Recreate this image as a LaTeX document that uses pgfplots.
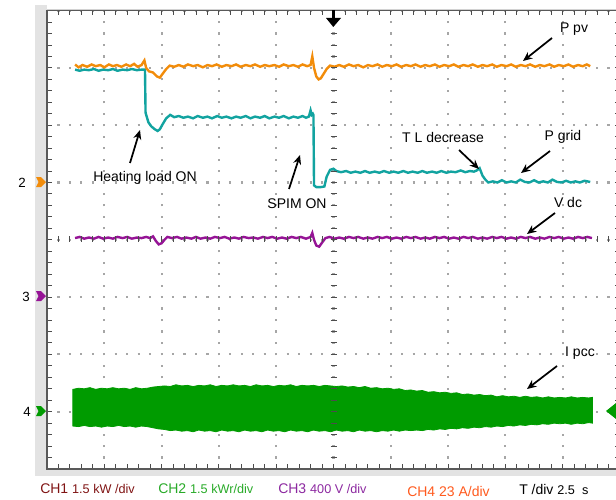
\documentclass[border=0pt]{standalone}
\usepackage{pgfplots}
\pgfplotsset{compat=1.18}
\usepackage{fontspec}
\setmainfont{Liberation Sans}
\usetikzlibrary{arrows.meta}
\definecolor{cOr}{RGB}{242,140,10}
\definecolor{cTe}{RGB}{18,163,160}
\definecolor{cPu}{RGB}{150,20,150}
\definecolor{cGr}{RGB}{0,155,0}
\definecolor{lCH1}{RGB}{128,20,20}
\definecolor{lCH2}{RGB}{40,170,40}
\definecolor{lCH3}{RGB}{140,40,160}
\definecolor{lCH4}{RGB}{255,90,30}
\begin{document}
\begin{tikzpicture}
\begin{scope}[x=0.75pt,y=-0.75pt]
\path[use as bounding box] (0,0) rectangle (616,499);
\fill[gray!22] (35,5) rectangle (47,476);
\fill[gray!22] (35,469) rectangle (616,476);
\draw[gray!35, line width=0.6pt] (47,9) -- (616,9);
\end{scope}
\begin{axis}[
  overlay,
  at={(35.25pt,-351.75pt)}, anchor=south west,
  scale only axis, width=429.75pt, height=343.8pt,
  xmin=0, xmax=10, ymin=0, ymax=8,
  xtick={0,...,10}, ytick={0,...,8},
  xticklabels={}, yticklabels={},
  minor x tick num=4, minor y tick num=4,
  tick align=inside, major tick length=3.5pt, minor tick length=3.5pt,
  tick style={gray!60!black, line width=0.7pt},
  axis line style={gray!70!black, line width=0.8pt},
  grid=major,
  major grid style={gray!70, line width=1.6pt, dash pattern=on 1.6pt off 6.995pt, dash phase=0.8pt},
  clip=false,
]
% green band (I pcc)
\addplot[draw=cGr, fill=cGr, line width=0.6pt] coordinates {
(0.45,1.39) (0.55,1.41) (0.65,1.40) (0.75,1.42) (0.85,1.39) (0.95,1.41) (1.05,1.40) (1.15,1.42) (1.25,1.40) (1.35,1.41) (1.45,1.39) (1.55,1.42) (1.65,1.40) (1.75,1.41) (1.85,1.43) (1.95,1.44) (2.05,1.45) (2.15,1.44) (2.25,1.47) (2.35,1.45) (2.45,1.46) (2.55,1.44) (2.65,1.46) (2.75,1.45) (2.85,1.47) (2.95,1.44) (3.05,1.46) (3.15,1.45) (3.25,1.47) (3.35,1.45) (3.45,1.46) (3.55,1.44) (3.65,1.47) (3.75,1.45) (3.85,1.46) (3.95,1.44) (4.05,1.46) (4.15,1.45) (4.25,1.47) (4.35,1.44) (4.45,1.46) (4.55,1.45) (4.65,1.46) (4.75,1.44) (4.85,1.46) (4.95,1.45) (5.05,1.44) (5.15,1.45) (5.25,1.43) (5.35,1.44) (5.45,1.42) (5.55,1.44) (5.65,1.41) (5.75,1.42) (5.85,1.40) (5.95,1.41) (6.05,1.39) (6.15,1.40) (6.25,1.37) (6.35,1.38) (6.45,1.36) (6.55,1.37) (6.65,1.34) (6.75,1.35) (6.85,1.33) (6.95,1.34) (7.05,1.32) (7.15,1.33) (7.25,1.30) (7.35,1.31) (7.45,1.29) (7.55,1.30) (7.65,1.28) (7.75,1.29) (7.85,1.26) (7.95,1.28) (8.05,1.26) (8.15,1.27) (8.25,1.25) (8.35,1.27) (8.45,1.25) (8.55,1.26) (8.65,1.24) (8.75,1.26) (8.85,1.24) (8.95,1.25) (9.05,1.24) (9.15,1.26) (9.25,1.24) (9.35,1.25) (9.45,1.24) (9.52,1.25)
(9.52,0.80) (9.45,0.81) (9.35,0.79) (9.25,0.80) (9.15,0.78) (9.05,0.80) (8.95,0.79) (8.85,0.80) (8.75,0.78) (8.65,0.79) (8.55,0.77) (8.45,0.78) (8.35,0.76) (8.25,0.77) (8.15,0.75) (8.05,0.76) (7.95,0.74) (7.85,0.75) (7.75,0.73) (7.65,0.74) (7.55,0.72) (7.45,0.73) (7.35,0.71) (7.25,0.72) (7.15,0.70) (7.05,0.71) (6.95,0.69) (6.85,0.70) (6.75,0.68) (6.65,0.69) (6.55,0.67) (6.45,0.68) (6.35,0.67) (6.25,0.68) (6.15,0.66) (6.05,0.68) (5.95,0.66) (5.85,0.67) (5.75,0.65) (5.65,0.67) (5.55,0.66) (5.45,0.68) (5.35,0.65) (5.25,0.67) (5.15,0.66) (5.05,0.68) (4.95,0.65) (4.85,0.67) (4.75,0.66) (4.65,0.68) (4.55,0.65) (4.45,0.67) (4.35,0.66) (4.25,0.68) (4.15,0.65) (4.05,0.67) (3.95,0.66) (3.85,0.68) (3.75,0.65) (3.65,0.67) (3.55,0.66) (3.45,0.68) (3.35,0.65) (3.25,0.67) (3.15,0.66) (3.05,0.68) (2.95,0.65) (2.85,0.67) (2.75,0.66) (2.65,0.68) (2.55,0.65) (2.45,0.67) (2.35,0.66) (2.25,0.68) (2.15,0.67) (2.05,0.69) (1.95,0.70) (1.85,0.72) (1.75,0.74) (1.65,0.75) (1.55,0.73) (1.45,0.75) (1.35,0.74) (1.25,0.76) (1.15,0.74) (1.05,0.75) (0.95,0.73) (0.85,0.75) (0.75,0.74) (0.65,0.76) (0.55,0.74) (0.45,0.75)
} -- cycle;
% purple V dc
\addplot[cPu, line width=1.8pt] coordinates {
(0.49,4.03) (0.57,4.05) (0.65,4.02) (0.73,4.04) (0.82,4.02) (0.90,4.05) (0.98,4.02) (1.07,4.04) (1.15,4.02) (1.23,4.05) (1.32,4.03) (1.40,4.05) (1.48,4.02) (1.57,4.04) (1.65,4.03) (1.73,4.05) (1.80,4.03) (1.85,4.06) (1.90,3.98) (1.95,3.92) (2.00,3.94) (2.05,4.00) (2.10,4.05) (2.18,4.03) (2.27,4.05) (2.35,4.02) (2.43,4.04) (2.52,4.02) (2.60,4.05) (2.68,4.02) (2.77,4.04) (2.85,4.02) (2.93,4.05) (3.02,4.03) (3.10,4.05) (3.18,4.02) (3.27,4.04) (3.35,4.02) (3.43,4.05) (3.52,4.03) (3.60,4.04) (3.68,4.02) (3.77,4.05) (3.85,4.03) (3.93,4.05) (4.02,4.02) (4.10,4.04) (4.18,4.02) (4.27,4.05) (4.35,4.03) (4.43,4.05) (4.52,4.02) (4.60,4.05) (4.63,4.12) (4.66,4.00) (4.70,3.90) (4.75,3.88) (4.80,3.95) (4.86,4.03) (4.93,4.05) (5.02,4.02) (5.10,4.04) (5.18,4.02) (5.27,4.05) (5.35,4.03) (5.43,4.05) (5.52,4.02) (5.60,4.04) (5.68,4.02) (5.77,4.05) (5.85,4.03) (5.93,4.05) (6.02,4.02) (6.10,4.04) (6.18,4.02) (6.27,4.05) (6.35,4.03) (6.43,4.05) (6.52,4.02) (6.60,4.04) (6.68,4.02) (6.77,4.05) (6.85,4.03) (6.93,4.05) (7.02,4.02) (7.10,4.04) (7.18,4.02) (7.27,4.05) (7.35,4.03) (7.43,4.05) (7.52,4.02) (7.60,4.04) (7.68,4.02) (7.77,4.05) (7.85,4.03) (7.93,4.05) (8.02,4.02) (8.10,4.04) (8.18,4.02) (8.27,4.05) (8.35,4.03) (8.43,4.05) (8.52,4.02) (8.60,4.04) (8.68,4.02) (8.77,4.05) (8.85,4.03) (8.93,4.05) (9.02,4.02) (9.10,4.04) (9.18,4.02) (9.27,4.05) (9.35,4.03) (9.43,4.05) (9.51,4.03)
};
% teal P grid
\addplot[cTe, line width=1.8pt] coordinates {
(0.49,6.97) (0.57,6.95) (0.65,6.97) (0.73,6.96) (0.82,6.98) (0.90,6.95) (0.98,6.97) (1.07,6.96) (1.15,6.98) (1.23,6.95) (1.32,6.97) (1.40,6.96) (1.48,6.98) (1.57,6.96) (1.65,6.97) (1.71,6.97) (1.72,6.22) (1.74,6.15) (1.77,6.05) (1.82,5.98) (1.88,5.93) (1.93,5.90) (1.97,5.93) (2.02,6.02) (2.08,6.12) (2.15,6.18) (2.22,6.14) (2.30,6.16) (2.38,6.13) (2.46,6.15) (2.55,6.12) (2.63,6.16) (2.72,6.13) (2.80,6.15) (2.88,6.12) (2.97,6.16) (3.05,6.13) (3.13,6.15) (3.22,6.12) (3.30,6.15) (3.38,6.13) (3.47,6.16) (3.55,6.12) (3.63,6.15) (3.72,6.13) (3.80,6.16) (3.88,6.12) (3.97,6.15) (4.05,6.13) (4.13,6.16) (4.22,6.12) (4.30,6.15) (4.38,6.13) (4.46,6.16) (4.52,6.13) (4.57,6.15) (4.60,6.26) (4.62,6.18) (4.64,6.20) (4.65,6.18) (4.66,4.95) (4.70,4.92) (4.78,4.92) (4.84,4.93) (4.88,5.10) (4.94,5.22) (5.00,5.24) (5.05,5.20) (5.13,5.18) (5.22,5.20) (5.30,5.17) (5.38,5.19) (5.47,5.17) (5.55,5.20) (5.63,5.17) (5.72,5.19) (5.80,5.17) (5.88,5.20) (5.97,5.17) (6.05,5.19) (6.13,5.17) (6.22,5.20) (6.30,5.17) (6.38,5.19) (6.47,5.17) (6.55,5.20) (6.63,5.17) (6.72,5.19) (6.80,5.17) (6.88,5.20) (6.97,5.17) (7.05,5.19) (7.13,5.18) (7.22,5.21) (7.30,5.18) (7.38,5.20) (7.45,5.19) (7.50,5.21) (7.55,5.25) (7.60,5.12) (7.65,5.05) (7.70,5.00) (7.78,5.02) (7.86,5.00) (7.94,5.04) (8.02,5.00) (8.10,5.02) (8.18,5.00) (8.26,5.05) (8.34,5.01) (8.42,5.00) (8.50,5.04) (8.58,5.00) (8.66,5.02) (8.74,5.00) (8.82,5.05) (8.90,5.01) (8.98,5.00) (9.06,5.03) (9.14,5.00) (9.22,5.02) (9.30,5.00) (9.38,5.03) (9.48,5.01)
};
% orange P pv
\addplot[cOr, line width=1.8pt] coordinates {
(0.49,7.06) (0.55,7.01) (0.62,7.05) (0.70,7.02) (0.78,7.06) (0.85,7.03) (0.93,7.05) (1.00,7.01) (1.08,7.06) (1.15,7.03) (1.22,7.05) (1.30,7.02) (1.38,7.06) (1.45,7.03) (1.52,7.07) (1.58,7.02) (1.65,7.05) (1.70,7.13) (1.73,7.00) (1.78,6.94) (1.85,6.92) (1.92,6.85) (1.97,6.83) (2.02,6.90) (2.08,6.98) (2.14,7.04) (2.22,7.02) (2.30,7.05) (2.38,7.02) (2.46,7.06) (2.55,7.03) (2.63,7.05) (2.72,7.01) (2.80,7.05) (2.88,7.03) (2.96,7.06) (3.05,7.02) (3.13,7.05) (3.22,7.03) (3.30,7.06) (3.38,7.02) (3.47,7.05) (3.55,7.03) (3.63,7.06) (3.72,7.02) (3.80,7.05) (3.88,7.03) (3.97,7.05) (4.05,7.02) (4.13,7.06) (4.22,7.03) (4.30,7.05) (4.38,7.02) (4.46,7.06) (4.54,7.03) (4.60,7.05) (4.63,7.20) (4.66,7.00) (4.70,6.85) (4.74,6.80) (4.78,6.82) (4.83,6.90) (4.88,6.98) (4.94,7.04) (5.02,7.02) (5.10,7.05) (5.18,7.02) (5.27,7.06) (5.35,7.03) (5.43,7.05) (5.52,7.01) (5.60,7.05) (5.68,7.03) (5.77,7.06) (5.85,7.02) (5.93,7.05) (6.02,7.03) (6.10,7.06) (6.18,7.02) (6.27,7.05) (6.35,7.03) (6.43,7.06) (6.52,7.02) (6.60,7.05) (6.68,7.03) (6.77,7.06) (6.85,7.02) (6.93,7.05) (7.02,7.03) (7.10,7.06) (7.18,7.02) (7.27,7.05) (7.35,7.03) (7.43,7.06) (7.52,7.02) (7.60,7.05) (7.68,7.03) (7.77,7.06) (7.85,7.02) (7.93,7.05) (8.02,7.03) (8.10,7.06) (8.18,7.02) (8.27,7.05) (8.35,7.03) (8.43,7.06) (8.52,7.02) (8.60,7.05) (8.68,7.03) (8.77,7.06) (8.85,7.02) (8.93,7.05) (9.02,7.03) (9.10,7.06) (9.18,7.02) (9.27,7.05) (9.35,7.03) (9.42,7.06) (9.48,7.03)
};
\end{axis}
\begin{scope}[x=0.75pt,y=-0.75pt]
% centre graticule dashes
\foreach \k in {1,...,39} {
  \draw[gray!60!black, line width=0.7pt] (330.5,{469-\k*11.46}) -- (336.5,{469-\k*11.46});
}
\foreach \k in {1,...,49} {
  \draw[gray!60!black, line width=0.7pt] ({47+\k*11.46},236) -- ({47+\k*11.46},242);
}
% trigger arrow
\fill[black] (331.5,10) rectangle (335,19);
\fill[black] (326,18) -- (341,18) -- (333.3,27) -- cycle;
% channel markers
\fill[cOr] (36,177) -- (41,177) -- (46,182) -- (41,187) -- (36,187) -- (38.5,182) -- cycle;
\fill[cPu] (36,291) -- (41,291) -- (46,296) -- (41,301) -- (36,301) -- (38.5,296) -- cycle;
\fill[cGr] (36,406) -- (41,406) -- (46,411) -- (41,416) -- (36,416) -- (38.5,411) -- cycle;
\fill[cGr] (606,411) -- (616,403) -- (616,419) -- cycle;
\node[font=\fontsize{10}{12}\selectfont] at (22,183) {2};
\node[font=\fontsize{10}{12}\selectfont] at (26,297) {3};
\node[font=\fontsize{10}{12}\selectfont] at (27,412) {4};
% annotations
\begin{scope}[every node/.style={font=\fontsize{10.5}{12}\selectfont, inner sep=0pt}, arr/.style={black, line width=1.3pt, -{Stealth[length=7pt,width=6pt]}}]
\node at (145,178) {Heating load ON};
\draw[arr] (130,163) -- (140,130);
\node at (297,204) {SPIM ON};
\draw[arr] (289,189) -- (300,155);
\node at (574,29) {P pv};
\draw[arr] (552,38) -- (523,61);
\node at (443,137) {T L decrease};
\draw[arr] (459,150) -- (479,169);
\node at (563,137) {P grid};
\draw[arr] (550,151) -- (521,173);
\node at (568,202) {V dc};
\draw[arr] (555,213) -- (527,234);
\node at (580,353) {I pcc};
\draw[arr] (557,366) -- (527,389);
\end{scope}
% bottom labels
\begin{scope}[every node/.style={anchor=west, inner sep=0pt}]
\node at (40,489) {\color{lCH1}\fontsize{10.5}{12}\selectfont CH1 \fontsize{9.5}{12}\selectfont 1.5 kW /div};
\node at (158,489) {\color{lCH2}\fontsize{10.5}{12}\selectfont CH2 \fontsize{9.5}{12}\selectfont 1.5 kWr/div};
\node at (278,489) {\color{lCH3}\fontsize{10.5}{12}\selectfont CH3 \fontsize{9.5}{12}\selectfont 400 V /div};
\node at (407,491) {\color{lCH4}\fontsize{10.5}{12}\selectfont CH4 23 A/div};
\node at (519,489) {\color{black}\fontsize{10.5}{12}\selectfont T /div \fontsize{9.5}{12}\selectfont 2.5 \ s};
\end{scope}
\end{scope}
\end{tikzpicture}
\end{document}
